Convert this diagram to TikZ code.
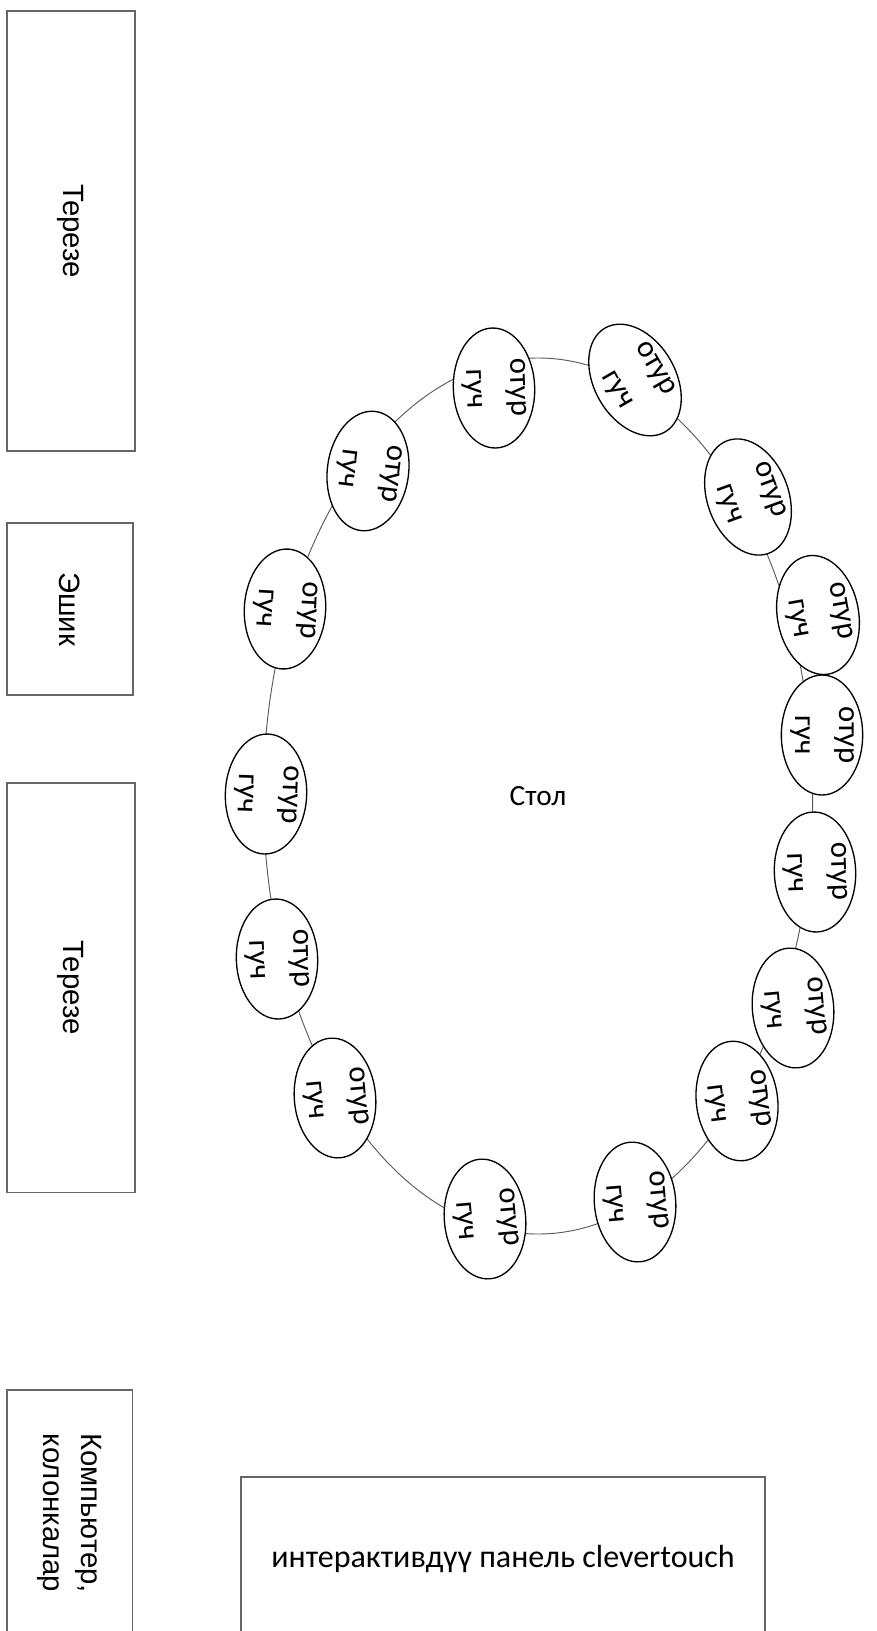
\documentclass[tikz,border=0pt]{standalone}
\usepackage{fontspec}
\setmainfont{Carlito}
\newfontfamily\arialfont{Liberation Sans}
\usetikzlibrary{shapes.geometric, positioning}
\tikzstyle{wall}      = [rectangle, draw=black!60, line width=1pt, fill=white, rotate=-90,
                          align=center, font=\arialfont\fontsize{22}{29}\selectfont]
\tikzstyle{seat}      = [ellipse, draw=black, line width=1pt, fill=white, inner sep=-4pt,
                          minimum width=90pt, minimum height=61pt, align=center,
                          font=\fontsize{23}{33}\selectfont]
\tikzstyle{tablering} = [ellipse, draw=black!65, line width=0.7pt, minimum width=412pt,
                          minimum height=657pt, font=\fontsize{22}{26}\selectfont]
\tikzstyle{screen}    = [rectangle, draw=black!60, line width=1pt, minimum width=393pt,
                          minimum height=123pt, font=\fontsize{24}{29}\selectfont]
\begin{document}
\begin{tikzpicture}[x=0.75pt, y=-0.75pt]
  \useasboundingbox (0,0) rectangle (877,1631);

  % --- Left wall ---
  \node (win_top) [wall, minimum width=330pt, minimum height=96pt]   at (71,231)    {Терезе};
  \node (door)    [wall, minimum width=129pt, minimum height=94.5pt] at (70,609)    {Эшик};
  \node (win_bot) [wall, minimum width=307pt, minimum height=96pt]   at (71,987.5)  {Терезе};
  \node (pc)      [wall, minimum width=184.5pt, minimum height=94pt] at (69.5,1513) {Компьютер,\\колонкалар};

  % --- Table ---
  \node (table) [tablering] at (538,796) {Стол};

  % --- Seats ---
  \node (seat1)  [seat, rotate=-88] at (494,388)  {отур\\гуч};
  \node (seat2)  [seat, rotate=-60] at (635,380)  {отур\\гуч};
  \node (seat3)  [seat, rotate=-70] at (748,497)  {отур\\гуч};
  \node (seat4)  [seat, rotate=-80] at (818,615)  {отур\\гуч};
  \node (seat5)  [seat, rotate=-90] at (822,735)  {отур\\гуч};
  \node (seat6)  [seat, rotate=-88] at (815,872)  {отур\\гуч};
  \node (seat7)  [seat, rotate=-85] at (793,1008) {отур\\гуч};
  \node (seat8)  [seat, rotate=-83] at (737,1101) {отур\\гуч};
  \node (seat9)  [seat, rotate=-85] at (635,1202) {отур\\гуч};
  \node (seat10) [seat, rotate=-85] at (485,1219) {отур\\гуч};
  \node (seat11) [seat, rotate=-85] at (335,1098) {отур\\гуч};
  \node (seat12) [seat, rotate=-88] at (277,959)  {отур\\гуч};
  \node (seat13) [seat, rotate=-92] at (266,794)  {отур\\гуч};
  \node (seat14) [seat, rotate=-93] at (285,609)  {отур\\гуч};
  \node (seat15) [seat, rotate=-97] at (368,471)  {отур\\гуч};

  % --- Screen ---
  \node (panel) [screen] at (503,1559) {интерактивдүү панель clevertouch};

\end{tikzpicture}
\end{document}
